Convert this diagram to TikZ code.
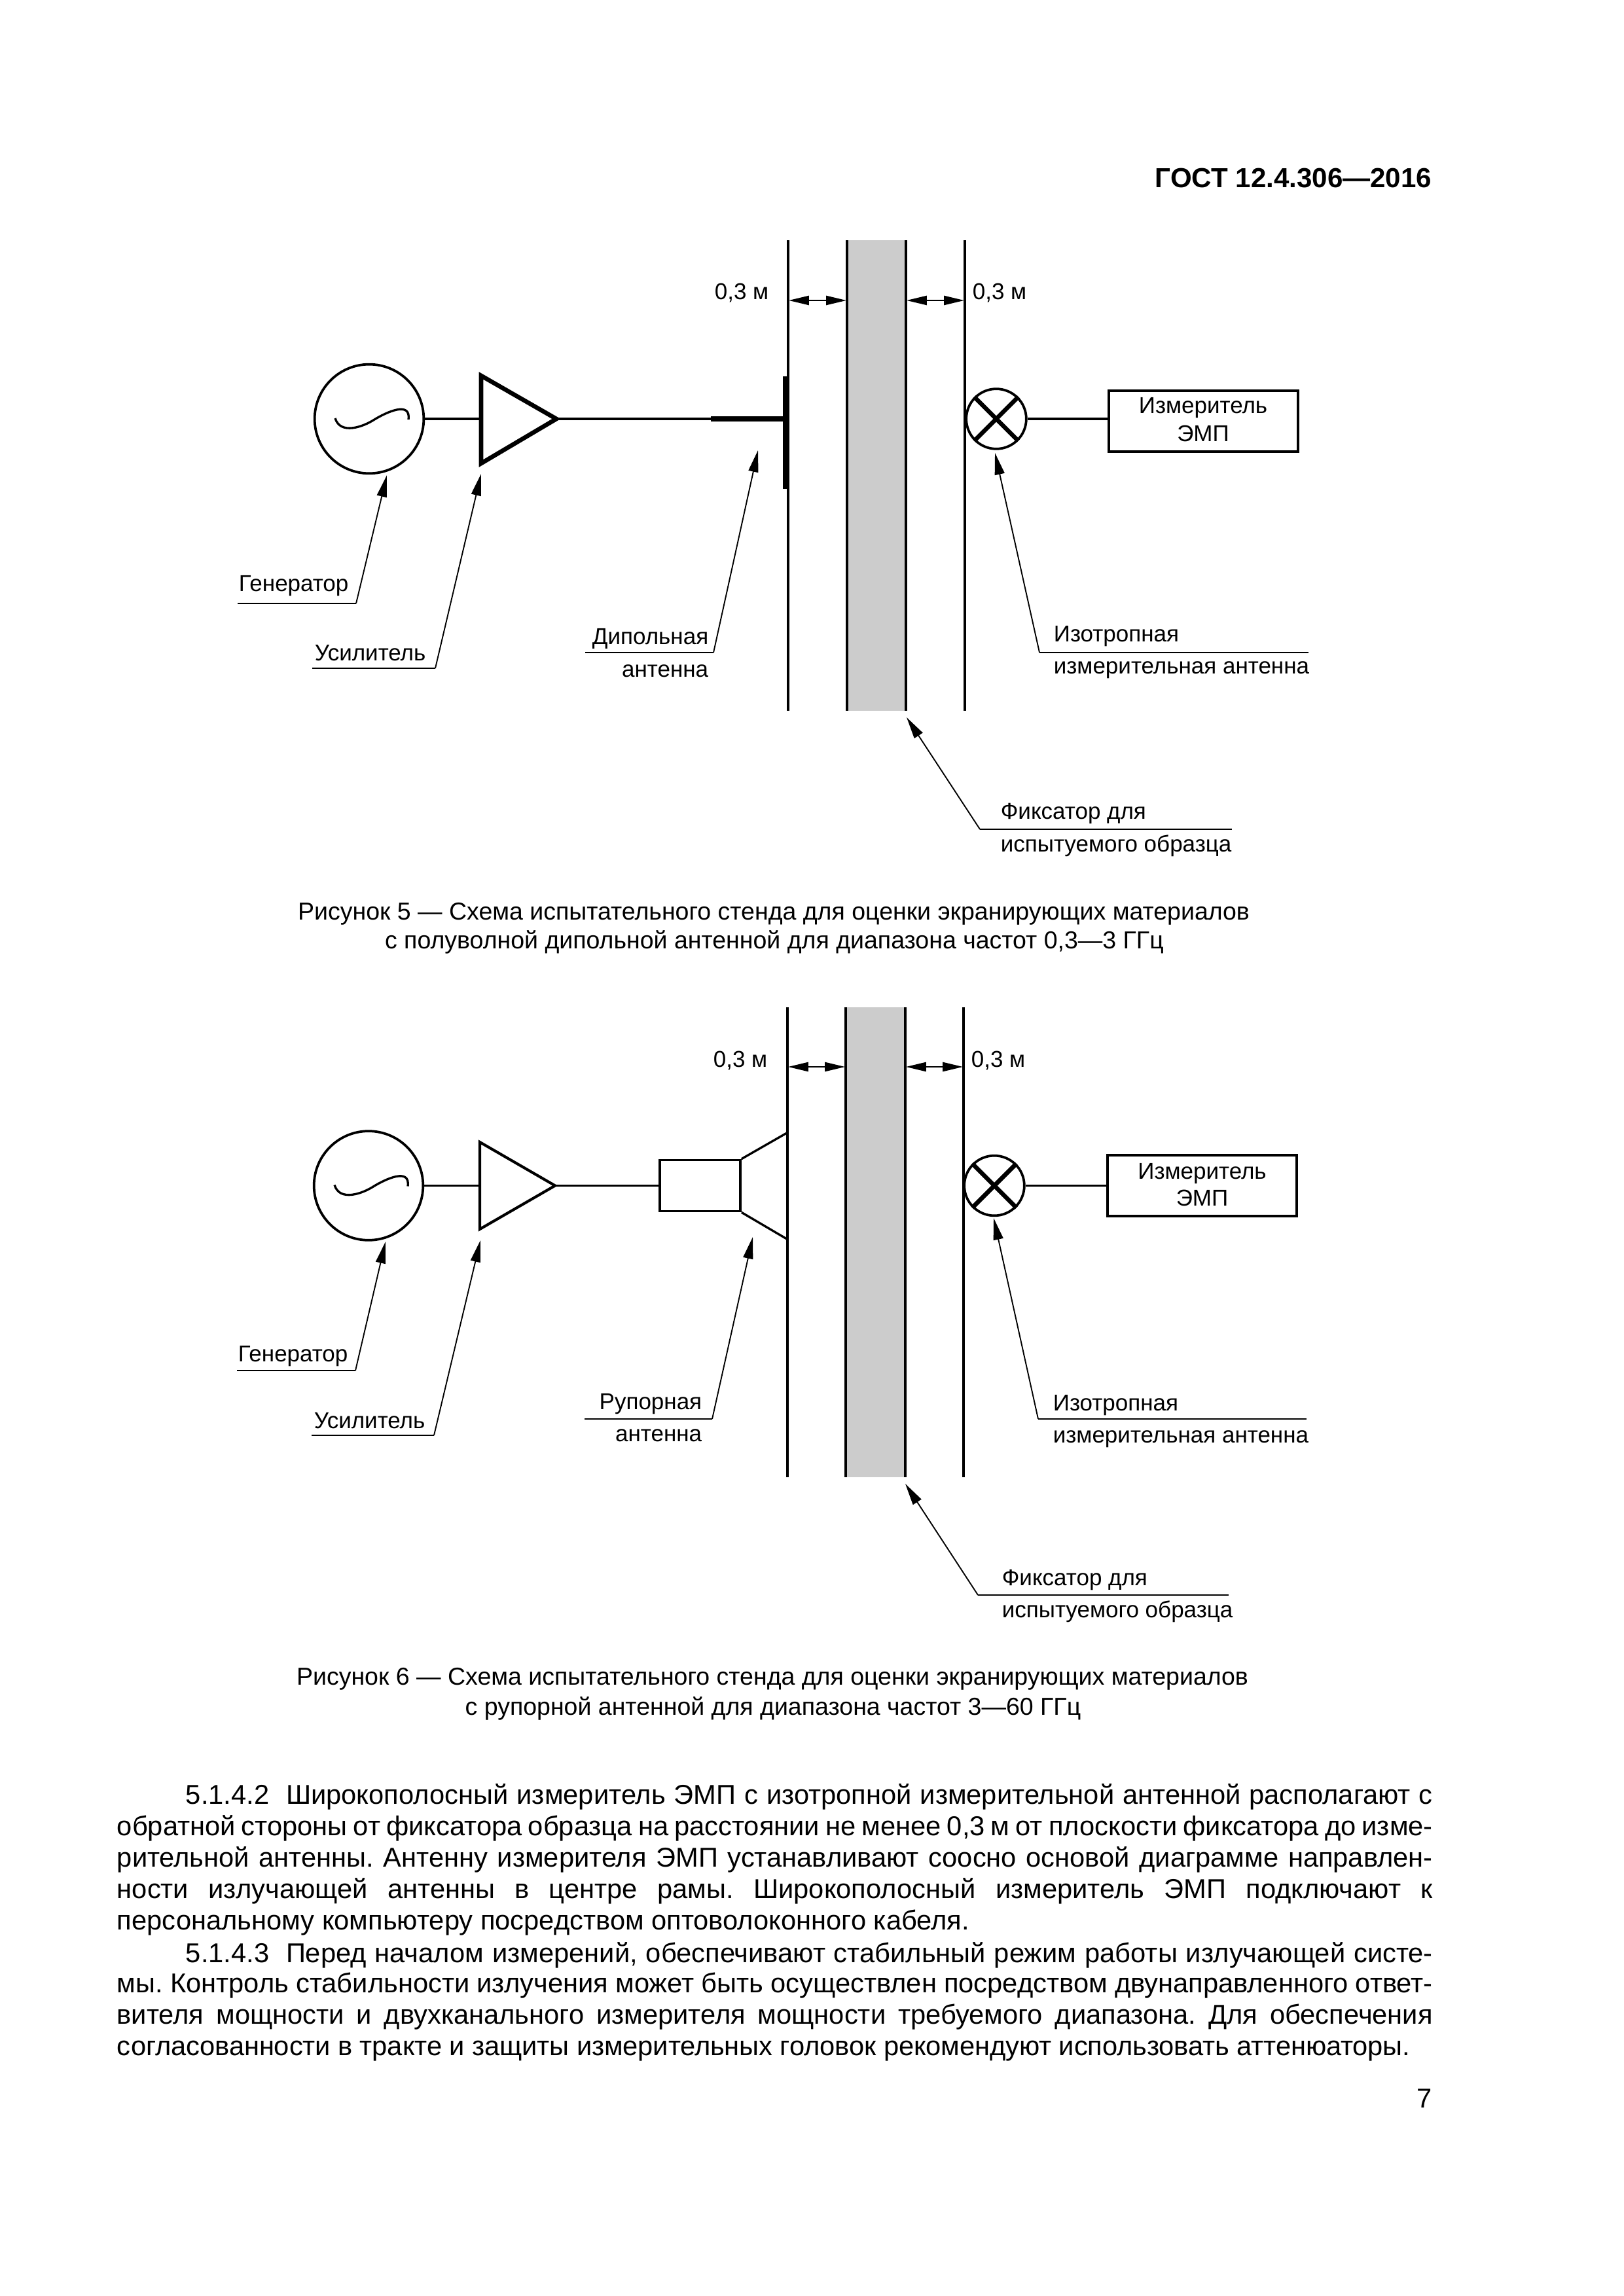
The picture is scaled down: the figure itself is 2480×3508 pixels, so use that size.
\documentclass[tikz,border=0pt]{standalone}
\usepackage{fontspec}
\setmainfont{Liberation Sans}
\usetikzlibrary{arrows.meta}

\tikzset{
    wire/.style={line width=0.8pt},
    heavy/.style={line width=1.6pt},
    wall/.style={line width=1pt},
    leader/.style={line width=0.45pt},
    pointer/.style={{Triangle[length=8pt,width=3.6pt]}-, line width=0.45pt},
    span/.style={{Triangle[length=7.4pt,width=3.4pt]}-{Triangle[length=7.4pt,width=3.4pt]}, line width=0.45pt},
    label/.style={font=\fontsize{8.4}{10}\selectfont, inner sep=0pt},
    gauge/.style={circle, draw, line width=0.9pt, minimum size=40pt, inner sep=0pt},
    probe/.style={circle, draw, line width=0.9pt, minimum size=22pt, inner sep=0pt},
    meter/.style={rectangle, draw, line width=0.9pt, minimum width=69.4pt, minimum height=22.3pt, inner sep=0pt},
    bodytext/.style={font=\fontsize{10}{12}\selectfont\frenchspacing, inner sep=0pt, anchor=base west},
    capline/.style={font=\fontsize{9}{11}\selectfont, inner sep=0pt, anchor=base}
}

\begin{document}
\begin{tikzpicture}[x=0.24pt, y=-0.24pt]
    \useasboundingbox (0,0) rectangle (2480,3508);

    \node[font=\bfseries\fontsize{10.1}{12}\selectfont, inner sep=0pt, anchor=base east] (head) at (2188,287) {ГОСТ 12.4.306—2016};

    % Figure 5: frame and sample holder
    \fill[black!20] (1294,367) rectangle (1384,1086);
    \coordinate (wa1) at (1204,367);  \coordinate (wa2) at (1204,1086);
    \coordinate (wb1) at (1294,367);  \coordinate (wb2) at (1294,1086);
    \coordinate (wc1) at (1384,367);  \coordinate (wc2) at (1384,1086);
    \coordinate (wd1) at (1474,367);  \coordinate (wd2) at (1474,1086);
    \draw[wall] (wa1) -- (wa2);
    \draw[wall] (wb1) -- (wb2);
    \draw[wall] (wc1) -- (wc2);
    \draw[wall] (wd1) -- (wd2);

    % Figure 5: spans
    \coordinate (sa) at (1205,459);  \coordinate (sb) at (1293,459);
    \coordinate (sc) at (1385,459);  \coordinate (sd) at (1473,459);
    \draw[span] (sa) -- (sb);
    \draw[span] (sc) -- (sd);
    \node[label, anchor=base west] (da) at (1091,458) {0,3 м};
    \node[label, anchor=base west] (db) at (1485,458) {0,3 м};

    % Figure 5: chain
    \node[gauge] (gen) at (564,640) {};
    \draw[wire] (512,639) .. controls (520,665) and (555,652) .. (572,641) .. controls (590,630) and (628,612) .. (624,641);
    \coordinate (amptop) at (735,574);  \coordinate (ampbot) at (735,708);
    \coordinate (amptip) at (850,640);  \coordinate (ampin) at (735,640);
    \draw[heavy, line join=miter] (amptop) -- (amptip) -- (ampbot) -- cycle;
    \draw[wire] (gen) -- (ampin);
    \coordinate (feed) at (1086,640);  \coordinate (dipole) at (1198,640);
    \coordinate (dipa) at (1200,575);  \coordinate (dipb) at (1200,747);
    \draw[wire] (amptip) -- (feed);
    \draw[line width=1.9pt] (feed) -- (dipole);
    \draw[line width=2pt] (dipa) -- (dipb);
    \node[probe] (cross) at (1522,640) {};
    \draw[heavy] (cross.45) -- (cross.225);
    \draw[heavy] (cross.135) -- (cross.315);
    \node[meter] (emp) at (1838.5,643.5) {};
    \node[label, anchor=base] (empa) at (1838,632) {Измеритель};
    \node[label, anchor=base] (empb) at (1838,675) {ЭМП};
    \draw[wire] (cross) -- (emp.west |- cross);

    % Figure 5: labels
    \coordinate (ga) at (591,726);  \coordinate (gb) at (544,922);  \coordinate (gc) at (363,922);
    \draw[pointer] (ga) -- (gb);
    \draw[leader] (gb) -- (gc);
    \node[label, anchor=base west] (gt) at (364,904) {Генератор};
    \coordinate (ua) at (735,724);  \coordinate (ub) at (665,1021);  \coordinate (uc) at (477,1021);
    \draw[pointer] (ua) -- (ub);
    \draw[leader] (ub) -- (uc);
    \node[label, anchor=base west] (ut) at (480,1009) {Усилитель};
    \coordinate (aa) at (1158,688);  \coordinate (ab) at (1090,997);  \coordinate (ac) at (894,997);
    \draw[pointer] (aa) -- (ab);
    \draw[leader] (ab) -- (ac);
    \node[label, anchor=base east] (at1) at (1083,985) {Дипольная};
    \node[label, anchor=base east] (at2) at (1083,1034) {антенна};
    \coordinate (ia) at (1520,692);  \coordinate (ib) at (1588,997);  \coordinate (ic) at (1999,997);
    \draw[pointer] (ia) -- (ib);
    \draw[leader] (ib) -- (ic);
    \node[label, anchor=base west] (it1) at (1609,980) {Изотропная};
    \node[label, anchor=base west] (it2) at (1609,1029) {измерительная антенна};
    \coordinate (fa) at (1385,1096);  \coordinate (fb) at (1497,1267);  \coordinate (fc) at (1882,1267);
    \draw[pointer] (fa) -- (fb);
    \draw[leader] (fb) -- (fc);
    \node[label, anchor=base west] (ft1) at (1528,1251) {Фиксатор для};
    \node[label, anchor=base west] (ft2) at (1528,1301) {испытуемого образца};

    \node[capline] (capa) at (1182,1405) {Рисунок 5 — Схема испытательного стенда для оценки экранирующих материалов};
    \node[capline] (capb) at (1183,1449) {с полуволной дипольной антенной для диапазона частот 0,3—3 ГГц};

    % Figure 6: frame and sample holder
    \fill[black!20] (1292,1539) rectangle (1383,2257);
    \coordinate (xa1) at (1203,1539);  \coordinate (xa2) at (1203,2257);
    \coordinate (xb1) at (1292,1539);  \coordinate (xb2) at (1292,2257);
    \coordinate (xc1) at (1383,1539);  \coordinate (xc2) at (1383,2257);
    \coordinate (xd1) at (1472,1539);  \coordinate (xd2) at (1472,2257);
    \draw[wall] (xa1) -- (xa2);
    \draw[wall] (xb1) -- (xb2);
    \draw[wall] (xc1) -- (xc2);
    \draw[wall] (xd1) -- (xd2);

    % Figure 6: spans
    \coordinate (ta) at (1204,1630);  \coordinate (tb) at (1291,1630);
    \coordinate (tc) at (1384,1630);  \coordinate (td) at (1471,1630);
    \draw[span] (ta) -- (tb);
    \draw[span] (tc) -- (td);
    \node[label, anchor=base west] (ea) at (1089,1630) {0,3 м};
    \node[label, anchor=base west] (eb) at (1483,1630) {0,3 м};

    % Figure 6: chain
    \node[gauge] (gen2) at (563,1811.5) {};
    \draw[wire] (511,1810.5) .. controls (519,1836.5) and (554,1823.5) .. (571,1812.5) .. controls (589,1801.5) and (627,1783.5) .. (623,1812.5);
    \coordinate (bmptop) at (733,1745);  \coordinate (bmpbot) at (733,1878);
    \coordinate (bmptip) at (848,1811.5);  \coordinate (bmpin) at (733,1811.5);
    \draw[wall, line join=miter] (bmptop) -- (bmptip) -- (bmpbot) -- cycle;
    \draw[wire] (gen2) -- (bmpin);
    \node[rectangle, draw, line width=0.9pt, minimum width=29.5pt, minimum height=18.7pt, inner sep=0pt] (guide) at (1069.5,1811.5) {};
    \draw[wire] (bmptip) -- (guide);
    \coordinate (horna) at (1202,1731);  \coordinate (hornb) at (1202,1893);
    \draw[wire] (guide.north east) -- (horna);
    \draw[wire] (guide.south east) -- (hornb);
    \node[probe] (cross2) at (1519,1811.5) {};
    \draw[heavy] (cross2.45) -- (cross2.225);
    \draw[heavy] (cross2.135) -- (cross2.315);
    \node[meter] (emp2) at (1836.5,1811.5) {};
    \node[label, anchor=base] (empc) at (1836.5,1801) {Измеритель};
    \node[label, anchor=base] (empd) at (1836.5,1842) {ЭМП};
    \draw[wire] (cross2) -- (emp2.west |- cross2);

    % Figure 6: labels
    \coordinate (ha) at (589,1897);  \coordinate (hb) at (543,2094);  \coordinate (hc) at (362,2094);
    \draw[pointer] (ha) -- (hb);
    \draw[leader] (hb) -- (hc);
    \node[label, anchor=base west] (ht) at (363,2080) {Генератор};
    \coordinate (va) at (734,1895);  \coordinate (vb) at (663,2193);  \coordinate (vc) at (476,2193);
    \draw[pointer] (va) -- (vb);
    \draw[leader] (vb) -- (vc);
    \node[label, anchor=base west] (vt) at (479,2182) {Усилитель};
    \coordinate (ra) at (1150,1890);  \coordinate (rb) at (1088,2168);  \coordinate (rc) at (893,2168);
    \draw[pointer] (ra) -- (rb);
    \draw[leader] (rb) -- (rc);
    \node[label, anchor=base east] (rt1) at (1073,2153) {Рупорная};
    \node[label, anchor=base east] (rt2) at (1073,2202) {антенна};
    \coordinate (ja) at (1518,1861);  \coordinate (jb) at (1586,2168);  \coordinate (jc) at (1996,2168);
    \draw[pointer] (ja) -- (jb);
    \draw[leader] (jb) -- (jc);
    \node[label, anchor=base west] (jt1) at (1608,2155) {Изотропная};
    \node[label, anchor=base west] (jt2) at (1608,2204) {измерительная антенна};
    \coordinate (ka) at (1383,2267);  \coordinate (kb) at (1494,2437);  \coordinate (kc) at (1877,2437);
    \draw[pointer] (ka) -- (kb);
    \draw[leader] (kb) -- (kc);
    \node[label, anchor=base west] (kt1) at (1530,2422) {Фиксатор для};
    \node[label, anchor=base west] (kt2) at (1530,2471) {испытуемого образца};

    \node[capline] (capc) at (1180,2574) {Рисунок 6 — Схема испытательного стенда для оценки экранирующих материалов};
    \node[capline] (capd) at (1181,2620) {с рупорной антенной для диапазона частот 3—60 ГГц};

    % Body text, line by line
    \node[bodytext] (l1) at (283,2756) {\makebox[457.2pt][s]{5.1.4.2\ \ Широкополосный измеритель ЭМП с изотропной измерительной антенной располагают с}};
    \node[bodytext] (l2) at (178,2804) {\makebox[482.4pt][s]{обратной стороны от фиксатора образца на расстоянии не менее 0,3 м от плоскости фиксатора до изме-}};
    \node[bodytext] (l3) at (178,2852) {\makebox[482.4pt][s]{рительной антенны. Антенну измерителя ЭМП устанавливают соосно основой диаграмме направлен-}};
    \node[bodytext] (l4) at (178,2900) {\makebox[482.4pt][s]{ности излучающей антенны в центре рамы. Широкополосный измеритель ЭМП подключают к}};
    \node[bodytext] (l5) at (178,2948) {персональному компьютеру посредством оптоволоконного кабеля.};
    \node[bodytext] (l6) at (283,2998) {\makebox[457.2pt][s]{5.1.4.3\ \ Перед началом измерений, обеспечивают стабильный режим работы излучающей систе-}};
    \node[bodytext] (l7) at (178,3044) {\makebox[482.4pt][s]{мы. Контроль стабильности излучения может быть осуществлен посредством двунаправленного ответ-}};
    \node[bodytext] (l8) at (178,3092) {\makebox[482.4pt][s]{вителя мощности и двухканального измерителя мощности требуемого диапазона. Для обеспечения}};
    \node[bodytext] (l9) at (178,3140) {\addfontfeature{LetterSpace=-0.3}согласованности в тракте и защиты измерительных головок рекомендуют использовать аттенюаторы.};
    \node[bodytext, anchor=base east] (pageno) at (2188,3220) {7};
\end{tikzpicture}
\end{document}
